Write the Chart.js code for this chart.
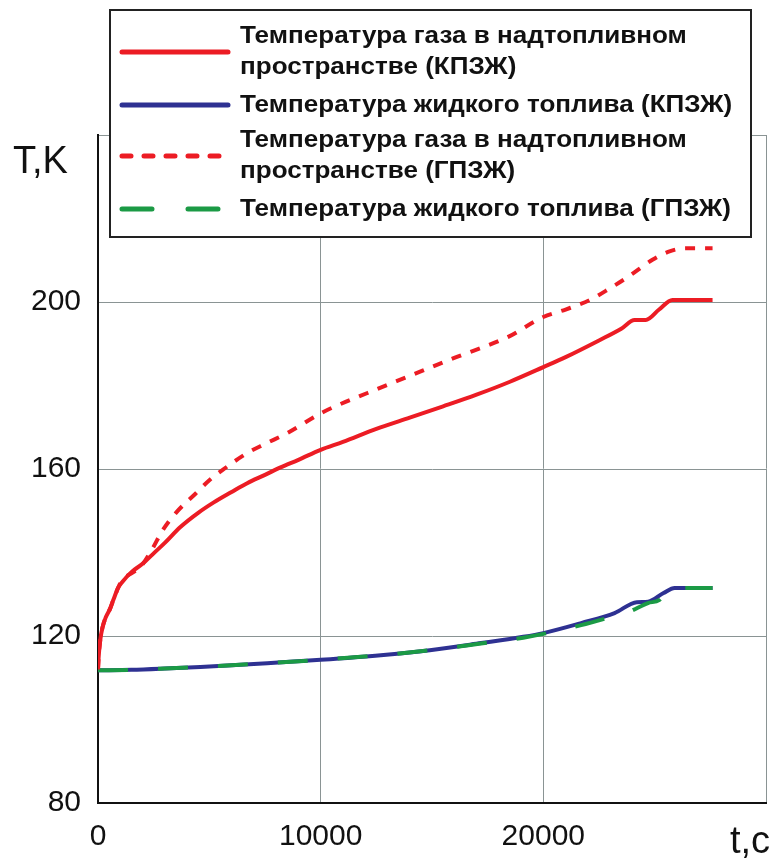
<!DOCTYPE html>
<html>
<head>
  <meta charset="utf-8">
  <script src="https://cdn.jsdelivr.net/npm/chart.js@4.4.1/dist/chart.umd.min.js"></script>
  <style>
    body { margin: 0; background: #fff; }
  </style>
</head>
<body>
  <canvas id="graph" width="774" height="858"></canvas>

  <script>
    // время, с  /  температура, К
    var tGasK = [0, 30, 100, 200, 350, 540, 700, 900, 1100, 1500, 2000, 2500, 3000, 3700, 4500, 5200, 6000, 6700, 7500, 8200, 9000, 10000, 11000, 12500, 14000, 15500, 17000, 18500, 20000, 21000, 22500, 23500, 24100, 24600, 25200, 25800, 26500, 27600];
    var TGasK = [112, 115, 119, 122, 124.5, 126.5, 128.8, 131.5, 133, 135.3, 137.3, 139.8, 142.3, 146.1, 149.5, 152, 154.5, 156.6, 158.6, 160.4, 162.2, 164.6, 166.5, 169.6, 172.3, 175, 177.8, 180.9, 184.4, 186.8, 190.8, 193.6, 195.7, 195.7, 198.2, 200.5, 200.5, 200.5];

    var tLiqK = [0, 1500, 3000, 4600, 6000, 7600, 10000, 12700, 14900, 17200, 19100, 20000, 21700, 23200, 24200, 24700, 25400, 25900, 27600];
    var TLiqK = [111.8, 111.9, 112.2, 112.6, 113, 113.5, 114.3, 115.4, 116.6, 118.3, 119.8, 120.7, 123.1, 125.5, 128.1, 128.2, 130.3, 131.5, 131.5];

    var tGasG = [0, 30, 100, 200, 350, 540, 700, 900, 1100, 1500, 1900, 2400, 2900, 3500, 4400, 5000, 5600, 6700, 7500, 8500, 10100, 12100, 14000, 16000, 18400, 20000, 21000, 22100, 23000, 23800, 24900, 25600, 26400, 27600];
    var TGasG = [112, 115, 119, 122, 124.5, 126.5, 128.8, 131.5, 133.5, 135, 136.5, 140.5, 145.3, 149.5, 154.2, 157.3, 159.8, 163.8, 166, 168.6, 173.6, 178.2, 182.3, 186.6, 191.6, 196.4, 198.2, 200.5, 203.3, 206, 210.1, 212, 212.9, 212.9];

    var tLiqG = [0, 1500, 3000, 4600, 6000, 7600, 10000, 12700, 14900, 17200, 19100, 20000, 21700, 23200, 23800, 24700, 25200, 25700, 27600];
    var TLiqG = [111.8, 111.9, 112.2, 112.6, 113, 113.5, 114.3, 115.4, 116.6, 118.2, 119.6, 120.5, 122.6, 124.8, 125.7, 127.9, 128.6, 131.5, 131.5];

    var seriesNames = [
      'Температура газа в надтопливном\nпространстве (КПЗЖ)',
      'Температура жидкого топлива (КПЗЖ)',
      'Температура газа в надтопливном\nпространстве (ГПЗЖ)',
      'Температура жидкого топлива (ГПЗЖ)'
    ];

    var xTicks = [0, 10000, 20000];
    var yTicks = [80, 120, 160, 200];

    function pts(t, v) {
      var out = [];
      for (var i = 0; i < t.length; i++) out.push({ x: t[i], y: v[i] });
      return out;
    }

    var FONT = '"Liberation Sans", Arial, sans-serif';

    // легенда в рамке поверх графика + подписи осей
    var boxLegend = {
      id: 'boxLegend',
      afterDraw: function(chart) {
        var ctx = chart.ctx;
        ctx.save();
        ctx.fillStyle = '#fff';
        ctx.fillRect(110, 10, 641, 227);
        ctx.strokeStyle = '#222';
        ctx.lineWidth = 2;
        ctx.strokeRect(110, 10, 641, 227);

        var rows = [52, 105, 156, 209];
        ctx.textBaseline = 'middle';
        var list = chart.data.datasets.slice().sort(function(a, b) { return a.legendPos - b.legendPos; });
        list.forEach(function(ds, i) {
          ctx.beginPath();
          ctx.strokeStyle = ds.borderColor;
          ctx.lineWidth = 5;
          ctx.lineCap = 'round';
          ctx.setLineDash(ds.legendDash || []);
          ctx.moveTo(122, rows[i]);
          ctx.lineTo(228, rows[i]);
          ctx.stroke();
          ctx.setLineDash([]);

          ctx.fillStyle = '#111';
          var lines = ds.label.split('\n');
          lines.forEach(function(s, j) {
            var y = rows[i] + (j - (lines.length - 1) / 2) * 31;
            ctx.save();
            ctx.translate(240, y);
            ctx.scale(1.085, 1);
            ctx.font = 'bold 24px ' + FONT;
            ctx.fillText(s, 0, 0);
            ctx.restore();
          });
        });

        ctx.font = '38px ' + FONT;
        ctx.textBaseline = 'alphabetic';
        ctx.fillStyle = '#111';
        ctx.fillText('T,K', 13, 173);
        ctx.fillText('t,c', 730, 853);
        ctx.restore();
      }
    };

    var ctx = document.getElementById('graph');
    var chart = new Chart(ctx, {
      type: 'line',
      data: {
        datasets: [
          { label: seriesNames[0], legendPos: 0, order: 3, data: pts(tGasK, TGasK), borderColor: '#ec1c24', borderWidth: 4 },
          { label: seriesNames[1], legendPos: 1, order: 4, data: pts(tLiqK, TLiqK), borderColor: '#2e3192', borderWidth: 4 },
          { label: seriesNames[2], legendPos: 2, order: 1, data: pts(tGasG, TGasG), borderColor: '#ec1c24', borderWidth: 4, borderDash: [10, 10], legendDash: [9, 13] },
          { label: seriesNames[3], legendPos: 3, order: 2, data: pts(tLiqG, TLiqG), borderColor: '#1b9a45', borderWidth: 4, borderDash: [30, 30], legendDash: [30, 36] }
        ]
      },
      options: {
        responsive: false,
        animation: false,
        devicePixelRatio: 1,
        layout: { padding: { top: 135, right: 8, left: 0, bottom: 0 } },
        elements: {
          point: { radius: 0 },
          line: { cubicInterpolationMode: 'monotone', borderCapStyle: 'butt' }
        },
        plugins: {
          legend: { display: false },
          tooltip: { enabled: false }
        },
        scales: {
          x: {
            type: 'linear',
            min: 0,
            max: 30000,
            afterFit: function(s) { s.height = 55; s.paddingRight = 0; s.paddingLeft = 0; },
            afterBuildTicks: function(s) {
              s.ticks = [0, 10000, 20000, 30000].map(function(v) { return { value: v }; });
            },
            ticks: {
              font: { family: FONT, size: 30 },
              color: '#111',
              padding: 16,
              maxRotation: 0,
              callback: function(v) { return xTicks.indexOf(v) >= 0 ? String(v) : ''; }
            },
            grid: { color: '#8a9494', lineWidth: 1, drawTicks: false },
            border: { color: '#111', width: 2 }
          },
          y: {
            min: 80,
            max: 240,
            afterFit: function(s) { s.width = 98; },
            afterBuildTicks: function(s) {
              s.ticks = [80, 120, 160, 200, 240].map(function(v) { return { value: v }; });
            },
            ticks: {
              font: { family: FONT, size: 30 },
              color: '#111',
              padding: 17,
              callback: function(v) { return yTicks.indexOf(v) >= 0 ? String(v) : ''; }
            },
            grid: { color: '#8a9494', lineWidth: 1, drawTicks: false },
            border: { color: '#111', width: 2 }
          }
        }
      },
      plugins: [boxLegend]
    });
  </script>
</body>
</html>
